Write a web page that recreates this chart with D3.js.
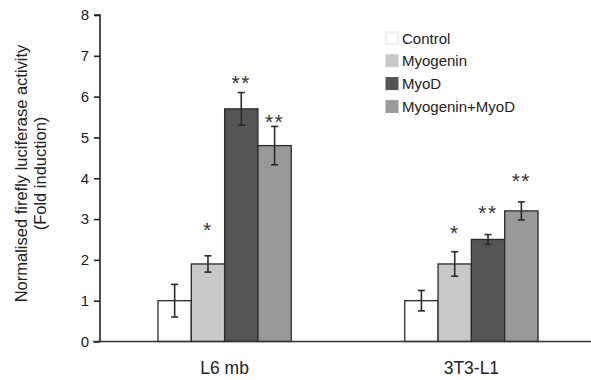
<!DOCTYPE html>
<html>
<head>
<meta charset="utf-8">
<script src="https://cdn.jsdelivr.net/npm/d3@7"></script>
<style>
  body { margin: 0; background: #fff; }
  svg { display: block; font-family: Arial, "Liberation Sans", sans-serif; }
</style>
</head>
<body>
<div id="chart"></div>
<script>
// data
const cellLines = ['L6 mb', '3T3-L1'];
const treatments = ['Control', 'Myogenin', 'MyoD', 'Myogenin+MyoD'];
const fillColors = ['#ffffff', '#c8c8c8', '#555555', '#999999'];
const meanL6 = [1.0, 1.9, 5.7, 4.8];
const errL6 = [0.4, 0.2, 0.4, 0.47];
const meanT3 = [1.0, 1.9, 2.5, 3.2];
const errT3 = [0.25, 0.3, 0.12, 0.22];
const sigL6 = ['', '*', '**', '**'];
const sigT3 = ['', '*', '**', '**'];
// height (in fold units) where each star mark sits
const sigPosL6 = [0, 2.86, 6.46, 5.5];
const sigPosT3 = [0, 2.78, 3.27, 4.06];
const yTicks = [0, 1, 2, 3, 4, 5, 6, 7, 8];

const width = 591, height = 380;
const svg = d3.select('#chart').append('svg')
    .attr('width', width)
    .attr('height', height);

const x0 = d3.scaleBand()
    .domain(cellLines)
    .range([100, 596])
    .paddingInner(0.46)
    .paddingOuter(0.235);

const x1 = d3.scaleBand()
    .domain(treatments)
    .range([0, x0.bandwidth()]);

const y = d3.scaleLinear().domain([0, 8]).range([341.5, 15]);

const color = d3.scaleOrdinal().domain(treatments).range(fillColors);

const rows = [
    { line: 'L6 mb', means: meanL6, errs: errL6, sig: sigL6, sigPos: sigPosL6 },
    { line: '3T3-L1', means: meanT3, errs: errT3, sig: sigT3, sigPos: sigPosT3 }
];

// bars
const groups = svg.selectAll('g.group')
    .data(rows)
    .enter().append('g')
    .attr('class', 'group')
    .attr('transform', d => `translate(${x0(d.line)},0)`);

const items = d => treatments.map((t, i) => ({
    t: t, v: d.means[i], e: d.errs[i], s: d.sig[i], sp: d.sigPos[i]
}));

groups.selectAll('rect')
    .data(items)
    .enter().append('rect')
    .attr('x', d => x1(d.t))
    .attr('y', d => y(d.v))
    .attr('width', x1.bandwidth())
    .attr('height', d => y(0) - y(d.v))
    .attr('fill', d => color(d.t))
    .attr('stroke', '#2a2a2a')
    .attr('stroke-width', 1.3);

// error bars
const eb = groups.selectAll('g.err')
    .data(items)
    .enter().append('g')
    .attr('class', 'err')
    .attr('stroke', '#2a2a2a')
    .attr('stroke-width', 1.6);

eb.append('line')
    .attr('x1', d => x1(d.t) + x1.bandwidth() / 2)
    .attr('x2', d => x1(d.t) + x1.bandwidth() / 2)
    .attr('y1', d => y(d.v + d.e))
    .attr('y2', d => y(d.v - d.e));
eb.append('line')
    .attr('x1', d => x1(d.t) + x1.bandwidth() / 2 - 3.5)
    .attr('x2', d => x1(d.t) + x1.bandwidth() / 2 + 3.5)
    .attr('y1', d => y(d.v + d.e))
    .attr('y2', d => y(d.v + d.e));
eb.append('line')
    .attr('x1', d => x1(d.t) + x1.bandwidth() / 2 - 3.5)
    .attr('x2', d => x1(d.t) + x1.bandwidth() / 2 + 3.5)
    .attr('y1', d => y(d.v - d.e))
    .attr('y2', d => y(d.v - d.e));

// significance stars
groups.selectAll('text.sig')
    .data(d => items(d).filter(o => o.s))
    .enter().append('text')
    .attr('class', 'sig')
    .attr('x', d => x1(d.t) + x1.bandwidth() / 2)
    .attr('y', d => y(d.sp) + 12)
    .attr('text-anchor', 'middle')
    .attr('letter-spacing', 1.5)
    .style('font-size', '21px')
    .style('fill', '#333')
    .text(d => d.s);

// y axis
const yAxis = svg.append('g')
    .attr('transform', 'translate(100,0)')
    .call(d3.axisLeft(y).tickValues(yTicks).tickSize(6).tickPadding(5).tickFormat(d3.format('d')));
yAxis.select('.domain').attr('d', `M-6,${y(8)}H0V${y(0)}`).attr('stroke', '#222').attr('stroke-width', 1.6);
yAxis.selectAll('.tick line').attr('stroke', '#222').attr('stroke-width', 1.6);
yAxis.selectAll('.tick text').style('font-size', '15px').style('fill', '#222').style('font-family', 'Arial, "Liberation Sans", sans-serif');

// x axis
svg.append('line')
    .attr('x1', 93).attr('x2', width)
    .attr('y1', y(0)).attr('y2', y(0))
    .attr('stroke', '#333').attr('stroke-width', 1.6);

svg.selectAll('text.cat')
    .data(cellLines)
    .enter().append('text')
    .attr('class', 'cat')
    .attr('x', d => x0(d) + x0.bandwidth() / 2)
    .attr('y', 374)
    .attr('text-anchor', 'middle')
    .style('font-size', '17.5px')
    .style('fill', '#222')
    .text(d => d);

// y title
const yTitle = svg.append('text')
    .attr('transform', 'translate(27,173.5) rotate(-90)')
    .attr('text-anchor', 'middle')
    .style('font-size', '16.5px')
    .style('fill', '#222');
yTitle.append('tspan').attr('x', 0).attr('y', 0).text('Normalised firefly luciferase activity');
yTitle.append('tspan').attr('x', 0).attr('y', 19).text('(Fold induction)');

// legend
const legend = svg.append('g').attr('transform', 'translate(386,38)');
const li = legend.selectAll('g')
    .data(treatments)
    .enter().append('g')
    .attr('transform', (d, i) => `translate(0,${i * 22.8})`);
li.append('rect')
    .attr('x', 0).attr('y', -6)
    .attr('width', 12).attr('height', 12)
    .attr('fill', d => color(d))
    .attr('stroke', d => d === 'Control' ? '#dddddd' : color(d));
li.append('text')
    .attr('x', 16).attr('y', 5.5)
    .style('font-size', '15px')
    .style('fill', '#222')
    .text(d => d);
</script>
</body>
</html>
